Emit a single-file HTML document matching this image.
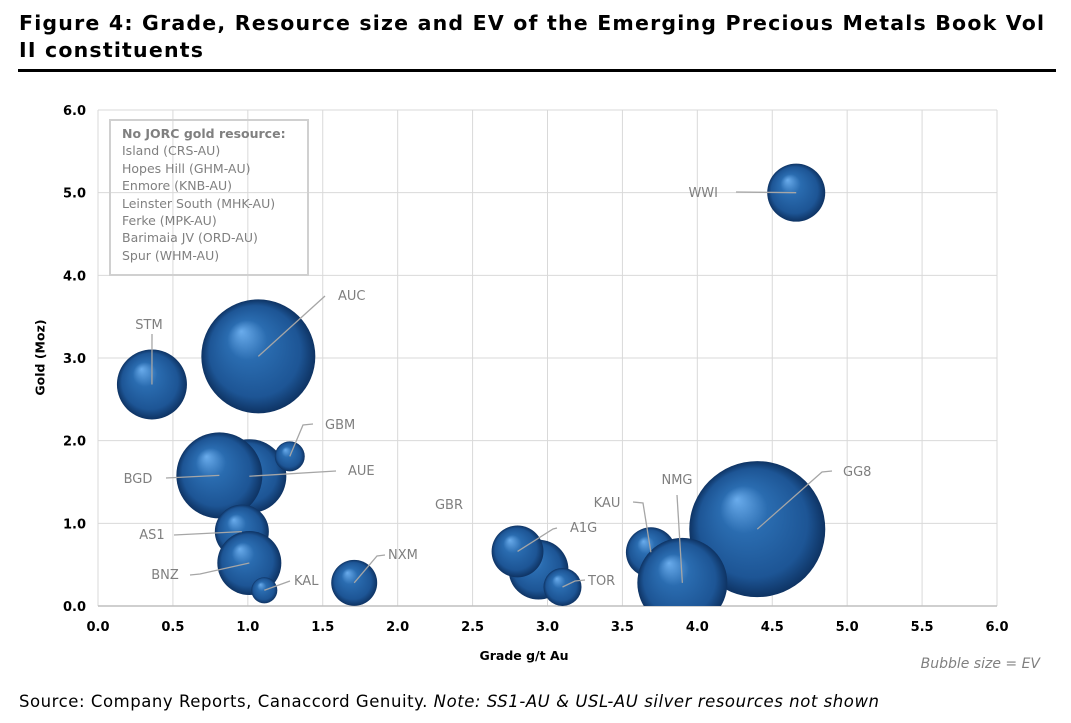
<!DOCTYPE html>
<html><head><meta charset="utf-8">
<style>
body{margin:0;background:#fff;width:1071px;height:723px;overflow:hidden;font-family:"DejaVu Sans","Liberation Sans",sans-serif}
</style></head>
<body>
<div style="position:absolute;left:19px;top:10px;font:bold 20.5px 'DejaVu Sans',sans-serif;color:#000;line-height:27px;letter-spacing:1.2px">Figure 4: Grade, Resource size and EV of the Emerging Precious Metals Book Vol<br>II constituents</div>
<div style="position:absolute;left:18px;top:69px;width:1038px;height:3px;background:#000"></div>
<svg id="chart" width="1071" height="723" style="position:absolute;left:0;top:0">
<defs>
<radialGradient id="ball" cx="0.5" cy="0.5" r="0.5" fx="0.35" fy="0.28">
<stop offset="0" stop-color="#6aacec"/><stop offset="0.35" stop-color="#2a6cb0"/><stop offset="0.8" stop-color="#1d5595"/><stop offset="1" stop-color="#0e3363"/>
</radialGradient>
<clipPath id="plotclip"><rect x="98" y="110" width="899" height="496"/></clipPath>
</defs>
<g id="grid"></g><g id="bubbles" clip-path="url(#plotclip)"></g><g id="ann"></g><g id="axes"></g>
</svg>
<div style="position:absolute;left:109px;top:119px;width:200px;height:157px;border:2px solid #d0d0d0;padding:4px 0 0 11px;box-sizing:border-box;font:12.5px 'DejaVu Sans',sans-serif;color:#808080;line-height:17.4px">
<b>No JORC gold resource:</b><br>Island (CRS-AU)<br>Hopes Hill (GHM-AU)<br>Enmore (KNB-AU)<br>Leinster South (MHK-AU)<br>Ferke (MPK-AU)<br>Barimaia JV (ORD-AU)<br>Spur (WHM-AU)</div>
<div style="position:absolute;left:0px;top:350px;width:80px;text-align:center;transform:rotate(-90deg);font:bold 12.5px 'DejaVu Sans',sans-serif">Gold (Moz)</div>
<div style="position:absolute;left:424px;top:648px;width:200px;text-align:center;font:bold 12.5px 'DejaVu Sans',sans-serif">Grade g/t Au</div>
<div style="position:absolute;left:880px;top:656px;width:160px;text-align:right;font:italic 14px 'DejaVu Sans',sans-serif;color:#808080">Bubble size = EV</div>
<div style="position:absolute;left:19px;top:692px;font:16.5px 'DejaVu Sans',sans-serif;color:#000;letter-spacing:0.55px">Source: Company Reports, Canaccord Genuity. <i>Note: SS1-AU &amp; USL-AU silver resources not shown</i></div>
<script>
const tickersX = ["WWI","AUC","STM","GBM","AUE","BGD","AS1","BNZ","KAL","NXM","GBR","A1G","TOR","KAU","NMG","GG8"];
const grade = [4.66,1.07,0.36,1.28,1.01,0.81,0.96,1.01,1.11,1.71,2.94,2.80,3.10,3.69,3.90,4.40];
const gold = [5.00,3.02,2.68,1.81,1.57,1.58,0.90,0.52,0.19,0.28,0.44,0.66,0.23,0.65,0.28,0.93];
const ev = [52.6,203,76.6,14,85.6,115.6,45.6,64,10.6,33,56,42,22.6,39,126.6,289];
const xTicks = ["0.0","0.5","1.0","1.5","2.0","2.5","3.0","3.5","4.0","4.5","5.0","5.5","6.0"];
const yTicks = ["0.0","1.0","2.0","3.0","4.0","5.0","6.0"];
const NS="http://www.w3.org/2000/svg";
const X0=98,X1=997,Y0=606,Y1=110;
const xs=v=>X0+(v/6)*(X1-X0), ys=v=>Y0-(v/6)*(Y0-Y1), rs=v=>4*Math.sqrt(v);
function mk(tag,attrs,parent){const e=document.createElementNS(NS,tag);for(const k in attrs)e.setAttribute(k,attrs[k]);document.getElementById(parent).appendChild(e);return e;}
xTicks.forEach((t,i)=>{const v=parseFloat(t);
 const l=mk('line',{x1:xs(v),x2:xs(v),y1:Y1,y2:Y0,stroke:'#d9d9d9','stroke-width':1},'grid');
 
 
 const tx=mk('text',{x:xs(v),y:Y0+25,'text-anchor':'middle','font-size':'13','font-weight':'bold','font-family':'DejaVu Sans, sans-serif',fill:'#000'},'axes');
 tx.textContent=t;
 
 
});
yTicks.forEach((t,i)=>{const v=parseFloat(t);
 const l=mk('line',{x1:X0,x2:X1,y1:ys(v),y2:ys(v),stroke:v===0?'#bfbfbf':'#d9d9d9','stroke-width':v===0?1.5:1},'grid');
 
 
 const tx=mk('text',{x:86,y:ys(v)+5,'text-anchor':'end','font-size':'13','font-weight':'bold','font-family':'DejaVu Sans, sans-serif',fill:'#000'},'axes');
 tx.textContent=t;
 
 
});
const order=[15,1,0,2,4,5,3,6,7,8,9,10,11,12,13,14];
order.forEach(i=>{
 const c=mk('circle',{cx:xs(grade[i]),cy:ys(gold[i]),r:rs(ev[i]),fill:'url(#ball)'},'bubbles');
 
 
});
const labels={WWI:[718,197,'end',[[736,192]]],AUC:[338,300,'start',[[325,296]]],STM:[149,329,'middle',[[152,334]]],
GBM:[325,429,'start',[[313,424],[303,425]]],AUE:[348,475,'start',[[336,471]]],BGD:[138,483,'middle',[[166,478]]],
AS1:[152,539,'middle',[[174,535]]],BNZ:[165,579,'middle',[[190,575],[200,574]]],KAL:[294,585,'start',[[290,581]]],
NXM:[388,559,'start',[[385,555],[377,556]]],GBR:[449,509,'middle',null],A1G:[570,532,'start',[[557,528],[553,529]]],
TOR:[588,585,'start',[[585,580],[575,581]]],KAU:[607,507,'middle',[[633,502],[643,503]]],NMG:[677,484,'middle',[[677,495]]],GG8:[843,476,'start',[[832,471],[822,472]]]};
tickersX.forEach((t,i)=>{const L=labels[t];
 if(L[3]){const pts=L[3].concat([[xs(grade[i]),ys(gold[i])]]);
  const p=mk('polyline',{points:pts.map(p=>p.join(',')).join(' '),fill:'none',stroke:'#a6a6a6','stroke-width':1.3},'ann');
  
  }
 const tx=mk('text',{x:L[0],y:L[1],'text-anchor':L[2],'font-size':'13','font-family':'DejaVu Sans, sans-serif',fill:'#7f7f7f'},'ann');
 tx.textContent=t;
 
 
});
</script>
</body></html>
